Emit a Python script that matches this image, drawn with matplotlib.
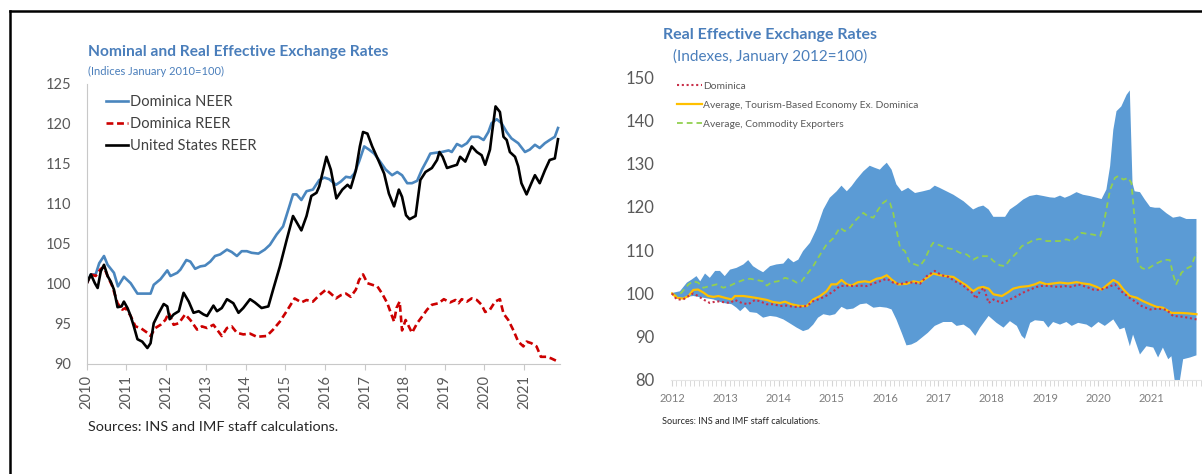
import matplotlib
matplotlib.use("Agg")
import matplotlib.pyplot as plt
from matplotlib.lines import Line2D
import numpy as np

plt.rcParams["font.family"] = ["Lato", "DejaVu Sans"]

# ---- Left panel: Dominica NEER / REER and US REER (Jan 2010 = 100) ----
neer_t = [2010.00, 2010.11, 2010.23, 2010.32, 2010.44, 2010.53, 2010.69, 2010.79, 2010.94, 2011.11,
          2011.28, 2011.61, 2011.69, 2011.86, 2012.03, 2012.11, 2012.28, 2012.36, 2012.51, 2012.61,
          2012.73, 2012.86, 2012.98, 2013.11, 2013.23, 2013.36, 2013.53, 2013.65, 2013.78, 2013.90,
          2014.03, 2014.15, 2014.32, 2014.48, 2014.61, 2014.78, 2014.94, 2015.11, 2015.19, 2015.28,
          2015.40, 2015.53, 2015.69, 2015.85, 2015.98, 2016.10, 2016.27, 2016.39, 2016.52, 2016.64,
          2016.73, 2016.85, 2016.98, 2017.10, 2017.23, 2017.35, 2017.52, 2017.68, 2017.81, 2017.93,
          2018.06, 2018.18, 2018.31, 2018.43, 2018.56, 2018.64, 2018.77, 2018.93, 2019.10, 2019.18,
          2019.31, 2019.43, 2019.56, 2019.68, 2019.85, 2019.98, 2020.10, 2020.18, 2020.31, 2020.43,
          2020.56, 2020.68, 2020.85, 2021.02, 2021.14, 2021.27, 2021.39, 2021.52, 2021.64, 2021.77,
          2021.85]
neer_v = [100.0, 101.2, 101.2, 102.6, 103.5, 102.4, 101.4, 99.7, 100.9, 100.1,
          98.8, 98.8, 99.9, 100.6, 101.7, 101.0, 101.4, 101.8, 103.0, 102.8,
          101.9, 102.2, 102.3, 102.8, 103.5, 103.7, 104.3, 104.0, 103.5, 104.1,
          104.1, 103.9, 103.8, 104.3, 104.9, 106.2, 107.2, 109.9, 111.2, 111.2,
          110.5, 111.6, 111.8, 113.0, 113.3, 113.1, 112.4, 112.8, 113.4, 113.3,
          113.8, 115.3, 117.2, 116.8, 116.3, 115.5, 114.3, 113.6, 114.0, 113.6,
          112.6, 112.6, 112.9, 114.3, 115.5, 116.3, 116.4, 116.5, 116.7, 116.5,
          117.5, 117.2, 117.6, 118.4, 118.4, 118.0, 119.0, 120.1, 120.6, 120.1,
          119.0, 118.2, 117.6, 116.5, 116.8, 117.4, 117.0, 117.6, 118.0, 118.4,
          119.5]

reer_t = [2010.00, 2010.11, 2010.23, 2010.36, 2010.44, 2010.53, 2010.65, 2010.78, 2010.90, 2010.98,
          2011.11, 2011.23, 2011.36, 2011.53, 2011.61, 2011.73, 2011.86, 2011.98, 2012.07, 2012.19,
          2012.32, 2012.48, 2012.61, 2012.78, 2012.90, 2013.03, 2013.19, 2013.28, 2013.40, 2013.53,
          2013.65, 2013.78, 2013.94, 2014.11, 2014.28, 2014.53, 2014.69, 2014.86, 2015.03, 2015.23,
          2015.40, 2015.53, 2015.69, 2015.85, 2016.02, 2016.14, 2016.27, 2016.39, 2016.52, 2016.64,
          2016.77, 2016.85, 2016.95, 2017.06, 2017.18, 2017.31, 2017.43, 2017.56, 2017.64, 2017.73,
          2017.79, 2017.87, 2017.93, 2018.02, 2018.10, 2018.18, 2018.31, 2018.43, 2018.56, 2018.68,
          2018.85, 2018.98, 2019.14, 2019.27, 2019.35, 2019.43, 2019.56, 2019.68, 2019.81, 2019.93,
          2020.02, 2020.14, 2020.27, 2020.39, 2020.48, 2020.60, 2020.73, 2020.85, 2020.98, 2021.06,
          2021.18, 2021.31, 2021.42, 2021.56, 2021.68, 2021.85]
reer_v = [100.0, 101.2, 101.0, 101.9, 102.1, 101.0, 99.7, 97.6, 96.8, 97.0,
          96.0, 94.7, 94.5, 93.9, 93.5, 94.5, 94.9, 95.5, 96.4, 94.9,
          95.1, 96.2, 95.5, 94.3, 94.7, 94.5, 94.9, 94.3, 93.5, 94.5,
          94.7, 93.9, 93.7, 93.8, 93.4, 93.5, 94.3, 95.3, 96.6, 98.2,
          97.7, 98.0, 97.8, 98.6, 99.3, 98.8, 98.2, 98.6, 98.8, 98.4,
          99.3, 100.5, 101.2, 100.1, 99.9, 99.7, 98.8, 97.6, 96.5, 95.3,
          97.0, 97.8, 94.2, 95.5, 94.7, 93.9, 95.1, 95.9, 96.8, 97.4,
          97.6, 98.1, 97.7, 98.0, 97.6, 98.1, 97.8, 98.2, 98.0, 97.4,
          96.5, 96.8, 97.8, 98.1, 96.3, 95.5, 94.2, 92.8, 92.2, 92.8,
          92.6, 92.2, 90.9, 90.9, 90.7, 90.3]

us_t = [2010.00, 2010.11, 2010.21, 2010.28, 2010.36, 2010.44, 2010.53, 2010.61, 2010.69, 2010.78,
        2010.88, 2010.94, 2011.03, 2011.11, 2011.19, 2011.28, 2011.40, 2011.53, 2011.61, 2011.69,
        2011.82, 2011.94, 2012.03, 2012.09, 2012.19, 2012.32, 2012.44, 2012.57, 2012.69, 2012.82,
        2012.94, 2013.03, 2013.19, 2013.28, 2013.40, 2013.53, 2013.69, 2013.82, 2013.94, 2014.11,
        2014.23, 2014.40, 2014.57, 2014.69, 2014.86, 2015.03, 2015.19, 2015.40, 2015.53, 2015.65,
        2015.78, 2015.85, 2016.03, 2016.14, 2016.28, 2016.43, 2016.56, 2016.64, 2016.77, 2016.87,
        2016.95, 2017.06, 2017.18, 2017.35, 2017.48, 2017.60, 2017.73, 2017.85, 2017.93, 2018.03,
        2018.12, 2018.27, 2018.39, 2018.52, 2018.68, 2018.81, 2018.87, 2018.95, 2019.06, 2019.18,
        2019.31, 2019.39, 2019.52, 2019.68, 2019.81, 2019.93, 2020.02, 2020.14, 2020.20, 2020.28,
        2020.39, 2020.48, 2020.56, 2020.64, 2020.77, 2020.85, 2020.93, 2021.06, 2021.18, 2021.27,
        2021.39, 2021.52, 2021.64, 2021.77, 2021.85]
us_v = [100.0, 101.2, 100.1, 99.5, 101.6, 102.4, 101.0, 100.3, 99.3, 97.1,
        97.2, 97.8, 97.0, 96.0, 94.7, 93.1, 92.8, 92.0, 92.6, 95.1,
        96.4, 97.5, 97.2, 95.6, 96.2, 96.6, 98.9, 97.8, 96.4, 96.6,
        96.2, 96.0, 97.3, 96.6, 97.0, 98.1, 97.6, 96.4, 97.0, 98.1,
        97.7, 97.0, 97.2, 99.3, 102.2, 105.5, 108.5, 106.7, 108.5, 111.0,
        111.4, 112.2, 115.9, 114.3, 110.7, 111.8, 112.4, 112.0, 114.2, 117.2,
        119.0, 118.8, 117.2, 115.3, 113.8, 111.3, 109.7, 111.8, 110.9, 108.6,
        108.1, 108.5, 113.0, 114.0, 114.5, 115.5, 116.5, 115.9, 114.5, 114.7,
        114.9, 115.9, 115.3, 117.2, 116.5, 116.1, 114.9, 116.8, 119.2, 122.2,
        121.5, 118.4, 118.0, 116.5, 115.9, 114.7, 112.6, 111.2, 112.6, 113.6,
        112.6, 114.2, 115.5, 115.7, 118.1]

left_years = list(range(2010, 2022))

# ---- Right panel: REER comparison (Jan 2012 = 100) ----
band_hi_t = [2012.00, 2012.15, 2012.28, 2012.37, 2012.46, 2012.53, 2012.62, 2012.71, 2012.81, 2012.90,
             2012.99, 2013.09, 2013.21, 2013.34, 2013.43, 2013.52, 2013.62, 2013.71, 2013.84, 2013.96,
             2014.09, 2014.18, 2014.28, 2014.37, 2014.46, 2014.59, 2014.71, 2014.84, 2014.96, 2015.09,
             2015.18, 2015.28, 2015.37, 2015.46, 2015.59, 2015.71, 2015.81, 2015.90, 2015.96, 2016.03,
             2016.12, 2016.21, 2016.31, 2016.43, 2016.56, 2016.71, 2016.84, 2016.93, 2017.02, 2017.15,
             2017.28, 2017.47, 2017.65, 2017.75, 2017.84, 2017.94, 2018.03, 2018.25, 2018.34, 2018.47,
             2018.59, 2018.71, 2018.84, 2018.97, 2019.09, 2019.18, 2019.28, 2019.37, 2019.47, 2019.59,
             2019.71, 2019.84, 2019.97, 2020.06, 2020.15, 2020.22, 2020.28, 2020.34, 2020.43, 2020.53,
             2020.59, 2020.64, 2020.68, 2020.78, 2020.87, 2020.97, 2021.06, 2021.15, 2021.28, 2021.40,
             2021.53, 2021.65, 2021.84]
band_hi_v = [100.1, 100.5, 102.5, 103.2, 104.0, 102.8, 104.6, 103.6, 105.2, 105.2,
             104.0, 105.5, 105.9, 106.7, 107.7, 106.3, 105.5, 104.9, 106.3, 106.7,
             106.9, 108.2, 107.2, 107.8, 109.8, 111.7, 114.8, 119.4, 122.1, 123.6,
             124.9, 123.6, 124.8, 126.3, 128.2, 129.5, 129.0, 128.6, 129.4, 130.2,
             128.6, 125.2, 123.6, 124.4, 123.2, 123.6, 124.0, 124.9, 124.4, 123.6,
             122.8, 121.3, 119.4, 120.0, 120.3, 119.4, 117.7, 117.7, 119.4, 120.5,
             121.7, 122.5, 122.8, 122.5, 122.2, 122.1, 122.6, 122.1, 122.6, 123.4,
             122.8, 122.5, 122.1, 121.8, 124.0, 129.4, 137.8, 142.1, 143.2, 145.9,
             146.9, 125.5, 123.6, 123.4, 121.7, 120.0, 119.8, 119.8, 118.5, 117.5,
             117.8, 117.2, 117.2]

band_lo_t = [2012.00, 2012.06, 2012.18, 2012.28, 2012.40, 2012.59, 2012.78, 2012.96, 2013.12, 2013.21,
             2013.28, 2013.37, 2013.46, 2013.59, 2013.71, 2013.84, 2013.96, 2014.09, 2014.21, 2014.34,
             2014.46, 2014.56, 2014.65, 2014.74, 2014.84, 2014.96, 2015.06, 2015.18, 2015.28, 2015.40,
             2015.53, 2015.65, 2015.78, 2015.90, 2016.03, 2016.12, 2016.21, 2016.31, 2016.40, 2016.49,
             2016.59, 2016.71, 2016.80, 2016.93, 2017.09, 2017.25, 2017.34, 2017.47, 2017.59, 2017.69,
             2017.78, 2017.94, 2018.09, 2018.22, 2018.34, 2018.47, 2018.56, 2018.62, 2018.72, 2018.81,
             2018.97, 2019.06, 2019.15, 2019.28, 2019.40, 2019.50, 2019.62, 2019.78, 2019.87, 2020.00,
             2020.12, 2020.28, 2020.40, 2020.49, 2020.59, 2020.65, 2020.78, 2020.90, 2021.03, 2021.12,
             2021.21, 2021.31, 2021.37, 2021.43, 2021.53, 2021.59, 2021.72, 2021.84]
band_lo_v = [100.0, 99.0, 98.8, 99.2, 99.4, 99.0, 98.6, 97.8, 97.5, 96.7,
             95.9, 96.9, 95.7, 95.5, 94.4, 94.8, 94.6, 94.0, 93.1, 92.1,
             91.3, 91.7, 92.8, 94.4, 95.2, 94.9, 95.2, 96.9, 96.3, 96.5,
             97.5, 97.7, 96.7, 96.9, 96.7, 96.3, 94.0, 90.9, 88.0, 88.2,
             88.8, 90.0, 90.9, 92.5, 93.4, 93.4, 92.5, 92.8, 91.8, 90.2,
             92.1, 94.8, 93.2, 92.1, 93.6, 92.5, 90.2, 89.5, 93.2, 93.8,
             93.6, 92.1, 93.4, 92.8, 93.4, 92.5, 93.2, 92.8, 92.1, 93.4,
             92.5, 94.0, 91.7, 92.1, 87.8, 90.5, 85.9, 87.8, 87.5, 85.2,
             87.5, 84.8, 85.5, 80.0, 80.0, 84.8, 85.2, 85.7]

dma_t = [2012.00, 2012.09, 2012.21, 2012.31, 2012.40, 2012.49, 2012.59, 2012.71, 2012.84, 2012.96,
         2013.09, 2013.18, 2013.31, 2013.43, 2013.56, 2013.65, 2013.78, 2013.90, 2014.03, 2014.15,
         2014.28, 2014.40, 2014.53, 2014.65, 2014.78, 2014.90, 2015.03, 2015.15, 2015.28, 2015.40,
         2015.53, 2015.65, 2015.78, 2015.90, 2016.03, 2016.15, 2016.28, 2016.40, 2016.53, 2016.65,
         2016.78, 2016.93, 2017.06, 2017.19, 2017.31, 2017.44, 2017.56, 2017.65, 2017.70, 2017.78,
         2017.85, 2017.90, 2017.94, 2018.03, 2018.19, 2018.34, 2018.47, 2018.59, 2018.72, 2018.84,
         2018.97, 2019.09, 2019.25, 2019.37, 2019.50, 2019.62, 2019.78, 2019.90, 2020.03, 2020.15,
         2020.31, 2020.43, 2020.56, 2020.68, 2020.81, 2020.97, 2021.12, 2021.28, 2021.40, 2021.59,
         2021.84]
dma_v = [100.0, 98.6, 98.6, 99.4, 100.0, 99.4, 98.6, 97.8, 98.2, 98.0,
         97.8, 98.5, 97.8, 97.5, 98.5, 98.2, 97.5, 97.5, 97.1, 97.2,
         96.9, 96.9, 97.1, 98.2, 98.8, 99.5, 100.5, 101.7, 101.8, 101.7,
         101.8, 101.7, 102.3, 102.8, 103.4, 102.5, 102.1, 102.6, 102.5, 102.2,
         104.0, 105.2, 104.2, 103.8, 102.8, 102.1, 100.8, 100.0, 98.8, 100.5,
         101.3, 99.4, 97.8, 98.6, 97.8, 98.6, 99.4, 100.2, 100.9, 101.5,
         101.8, 101.7, 101.5, 101.7, 101.5, 102.1, 101.5, 100.9, 100.8, 101.3,
         102.1, 100.5, 99.2, 98.2, 97.1, 96.3, 96.5, 96.2, 94.8, 94.6,
         94.0]

tour_t = [2012.00, 2012.09, 2012.21, 2012.31, 2012.40, 2012.49, 2012.59, 2012.68, 2012.78, 2012.87,
          2012.99, 2013.12, 2013.18, 2013.34, 2013.46, 2013.56, 2013.65, 2013.78, 2013.90, 2014.03,
          2014.12, 2014.24, 2014.40, 2014.53, 2014.65, 2014.78, 2014.90, 2014.99, 2015.09, 2015.18,
          2015.28, 2015.37, 2015.49, 2015.62, 2015.71, 2015.84, 2015.93, 2016.03, 2016.12, 2016.24,
          2016.40, 2016.53, 2016.65, 2016.78, 2016.90, 2017.03, 2017.15, 2017.28, 2017.40, 2017.53,
          2017.65, 2017.75, 2017.84, 2017.94, 2018.03, 2018.19, 2018.31, 2018.40, 2018.53, 2018.69,
          2018.81, 2018.90, 2019.03, 2019.15, 2019.28, 2019.43, 2019.59, 2019.71, 2019.84, 2019.97,
          2020.06, 2020.15, 2020.28, 2020.37, 2020.47, 2020.59, 2020.72, 2020.84, 2020.97, 2021.09,
          2021.21, 2021.37, 2021.53, 2021.68, 2021.84]
tour_v = [100.0, 99.0, 98.8, 99.4, 100.8, 100.9, 100.2, 99.4, 99.2, 99.4,
          99.0, 98.6, 99.4, 99.4, 99.2, 99.0, 98.8, 98.5, 98.0, 97.8,
          98.1, 97.5, 97.1, 97.1, 98.6, 99.4, 100.5, 102.1, 102.1, 103.1,
          102.1, 101.8, 102.6, 102.8, 102.6, 103.4, 103.6, 104.2, 103.2, 102.1,
          102.2, 102.8, 102.5, 103.6, 104.6, 104.2, 104.0, 103.8, 102.8, 101.8,
          100.5, 101.3, 101.5, 101.1, 99.8, 99.4, 100.3, 101.1, 101.5, 101.7,
          102.1, 102.6, 102.1, 102.3, 102.5, 102.3, 102.6, 102.3, 102.1, 101.5,
          100.9, 101.8, 103.1, 102.5, 100.9, 99.4, 99.0, 98.2, 97.5, 96.9,
          96.7, 95.5, 95.5, 95.4, 95.2]

comm_t = [2012.00, 2012.09, 2012.18, 2012.31, 2012.40, 2012.49, 2012.59, 2012.71, 2012.84, 2012.96,
          2013.09, 2013.21, 2013.34, 2013.46, 2013.59, 2013.71, 2013.78, 2013.87, 2013.99, 2014.12,
          2014.24, 2014.34, 2014.43, 2014.53, 2014.65, 2014.78, 2014.90, 2015.03, 2015.15, 2015.24,
          2015.34, 2015.46, 2015.59, 2015.68, 2015.78, 2015.87, 2015.96, 2016.03, 2016.09, 2016.15,
          2016.21, 2016.28, 2016.37, 2016.46, 2016.56, 2016.65, 2016.74, 2016.84, 2016.90, 2017.03,
          2017.15, 2017.28, 2017.40, 2017.53, 2017.65, 2017.78, 2017.94, 2018.03, 2018.15, 2018.25,
          2018.34, 2018.47, 2018.56, 2018.66, 2018.78, 2018.90, 2019.03, 2019.15, 2019.28, 2019.40,
          2019.50, 2019.59, 2019.68, 2019.78, 2019.90, 2020.03, 2020.09, 2020.15, 2020.22, 2020.31,
          2020.37, 2020.47, 2020.56, 2020.62, 2020.68, 2020.74, 2020.81, 2020.90, 2021.03, 2021.12,
          2021.24, 2021.34, 2021.41, 2021.46, 2021.56, 2021.65, 2021.74, 2021.84]
comm_v = [100.0, 99.4, 100.2, 102.1, 102.8, 102.5, 101.3, 101.7, 102.1, 101.3,
          101.8, 102.5, 103.1, 103.4, 103.1, 102.8, 101.8, 102.6, 102.8, 103.6,
          103.2, 102.5, 102.8, 104.4, 106.3, 109.0, 111.3, 112.8, 115.2, 114.4,
          115.2, 117.1, 118.6, 117.8, 117.5, 119.4, 120.9, 121.5, 120.9, 118.6,
          114.8, 110.5, 109.8, 107.1, 106.7, 106.3, 107.8, 110.5, 111.7, 111.1,
          110.5, 110.2, 109.4, 109.0, 107.8, 108.6, 108.6, 107.5, 106.5, 106.3,
          107.8, 109.4, 110.9, 111.5, 112.3, 112.6, 112.1, 112.1, 112.1, 112.5,
          112.1, 112.8, 114.0, 113.8, 113.6, 113.2, 115.5, 119.4, 124.0, 126.7,
          127.1, 126.3, 126.7, 125.5, 117.1, 107.1, 105.9, 105.5, 106.5, 107.1,
          107.8, 107.7, 104.0, 102.1, 104.8, 105.7, 106.3, 109.4]

right_years = list(range(2012, 2022))

W, H = 1202, 474
fig = plt.figure(figsize=(W / 100, H / 100), dpi=100)


def px(x, y):
    # pixel position (from top-left) to figure fraction
    return x / W, 1 - y / H


# outer frame (top and left edges)
fig.add_artist(Line2D([10 / W, 1], [1 - 11 / H] * 2, transform=fig.transFigure, color="black", lw=1.8))
fig.add_artist(Line2D([10 / W] * 2, [0, 1 - 11 / H], transform=fig.transFigure, color="black", lw=1.8))

# ---------------- left chart ----------------
ax1 = fig.add_axes([86.5 / W, (H - 364) / H, 473.5 / W, 280 / H])
ax1.plot(neer_t, neer_v, color="#4a86be", lw=1.9, label="Dominica NEER")
ax1.plot(reer_t, reer_v, color="#cc0000", lw=1.9, ls=(0, (2.6, 1.4)), label="Dominica REER")
ax1.plot(us_t, us_v, color="black", lw=1.9, label="United States REER")
ax1.set_xlim(2010, 2021.9)
ax1.set_ylim(90, 125)
ax1.set_yticks(range(90, 126, 5))
ax1.set_xticks(left_years)
ax1.set_xticklabels([str(y) for y in left_years], rotation=90)
for s in ["top", "right"]:
    ax1.spines[s].set_visible(False)
for s in ["left", "bottom"]:
    ax1.spines[s].set_color("#c8c8c8")
ax1.tick_params(axis="x", length=4, color="#c8c8c8", labelsize=10.5, labelcolor="#595959", pad=4)
ax1.tick_params(axis="y", length=0, labelsize=10.5, labelcolor="#595959", pad=11)
ax1.legend(loc="upper left", bbox_to_anchor=(0.041, 0.96), frameon=False, fontsize=10.5,
           handlelength=1.5, handletextpad=0.15, labelspacing=0.55, borderpad=0,
           borderaxespad=0, labelcolor="#404040")

fig.text(*px(88, 52), "Nominal and Real Effective Exchange Rates", color="#4a7ebb",
         fontsize=11.2, fontweight="bold", va="center", ha="left")
fig.text(*px(88, 71), "(Indices January 2010=100)", color="#4a7ebb",
         fontsize=8, va="center", ha="left")
fig.text(*px(88, 427), "Sources: INS and IMF staff calculations.", color="#262626",
         fontsize=10.4, va="center", ha="left")

# ---------------- right chart ----------------
ax2 = fig.add_axes([670.9 / W, (H - 380) / H, 530.9 / W, 303 / H])
ax2.fill(np.r_[band_hi_t, band_lo_t[::-1]], np.r_[band_hi_v, band_lo_v[::-1]],
         color="#5b9bd5", lw=0)
ax2.plot(comm_t, comm_v, color="#92d050", lw=1.3, ls=(0, (3.2, 2.2)),
         label="Average, Commodity Exporters")
ax2.plot(tour_t, tour_v, color="#ffc000", lw=1.6,
         label="Average, Tourism-Based Economy Ex. Dominica")
ax2.plot(dma_t, dma_v, color="#c8304a", lw=1.5, ls=(0, (1, 1.3)), label="Dominica")
ax2.set_xlim(2011.98, 2021.94)
ax2.set_ylim(80, 150)
ax2.set_yticks(range(80, 151, 10))
ax2.set_xticks(right_years)
ax2.set_xticks(np.arange(2012, 2021.95, 1 / 12), minor=True)
for s in ["top", "right", "left"]:
    ax2.spines[s].set_visible(False)
ax2.spines["bottom"].set_color("#e6e6e6")
ax2.tick_params(axis="x", which="both", length=4, color="#d4d4d4", labelsize=8,
                labelcolor="#7f7f7f", pad=5)
ax2.tick_params(axis="y", length=0, labelsize=12, labelcolor="#595959", pad=12)

handles, labels = ax2.get_legend_handles_labels()
order = [2, 1, 0]
ax2.legend([handles[i] for i in order], [labels[i] for i in order], loc="upper left",
           bbox_to_anchor=(0.0115, 0.984), frameon=False, fontsize=7.4, handlelength=2.4,
           handletextpad=0.1, labelspacing=0.95, borderpad=0, borderaxespad=0,
           labelcolor="#595959")

fig.text(*px(663, 35), "Real Effective Exchange Rates", color="#4a7ebb",
         fontsize=11.5, fontweight="bold", va="center", ha="left")
fig.text(*px(673, 56), "(Indexes, January 2012=100)", color="#4a7ebb",
         fontsize=11, va="center", ha="left")
fig.text(*px(662, 421), "Sources: INS and IMF staff calculations.", color="#262626",
         fontsize=6.6, va="center", ha="left")

fig.savefig("out.png", dpi=100)
